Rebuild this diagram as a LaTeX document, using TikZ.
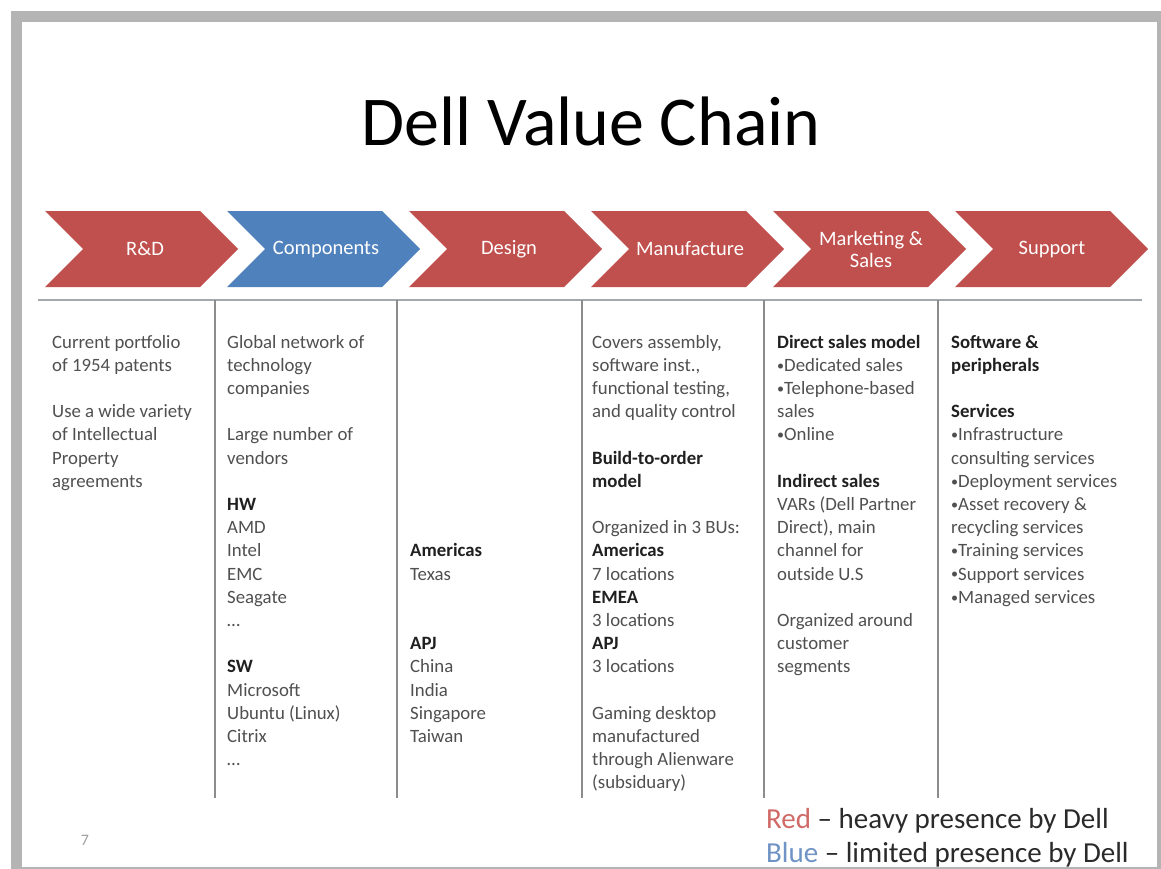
\documentclass[tikz,border=0pt]{standalone}
\usepackage{fontspec}
\usepackage{graphicx}
\setmainfont{Carlito}
\definecolor{dred}{HTML}{C0504D}
\definecolor{dblue}{HTML}{4F81BD}
\definecolor{framegray}{HTML}{B4B4B4}
\definecolor{bodytxt}{HTML}{505050}
\definecolor{boldtxt}{HTML}{202020}
\definecolor{sepline}{HTML}{8C8C8C}
\definecolor{hlinec}{HTML}{A3A8AE}
\definecolor{legred}{HTML}{CF6A67}
\definecolor{legblue}{HTML}{6F93C4}
\definecolor{legtxt}{HTML}{2A2A2A}
\definecolor{pagenum}{HTML}{A0A0A0}
\newcommand\hd[1]{{\color{boldtxt}\bfseries #1}}
\newcommand\bul{\raisebox{0.12ex}{\scalebox{0.75}{•}}}
\newcommand\chevpath[2]{\fill[#2] (#1,211) -- ++(155,0) -- ++(38,38) -- ++(-38,38) -- ++(-155,0) -- ++(38,-38) -- cycle;}
\tikzset{
  chevtext/.style={text=white, font=\fontsize{20.5}{22}\selectfont, align=center, inner sep=0pt},
  coltext/.style={anchor=base west, inner sep=0pt, text=bodytxt, font=\fontsize{18.8}{23.2}\selectfont},
  sepl/.style={draw=sepline, line width=2pt},
  hrule/.style={draw=hlinec, line width=2.5pt},
  legend/.style={anchor=base west, inner sep=0pt, text=legtxt, font=\fontsize{29}{34}\selectfont}
}
\begin{document}
\begin{tikzpicture}[x=1pt,y=-1pt]
\useasboundingbox (0,0) rectangle (1161,869);
\fill[white] (0,0) rectangle (1161,869);
\fill[framegray] (11,11) rectangle (1161,869);
\fill[white] (22,22) rectangle (1157,867);

% title
\node[anchor=base, inner sep=0pt, font=\fontsize{70}{84}\selectfont, text=black] (title) at (591,146) {Dell Value Chain};

% chevrons
\chevpath{45}{dred}
\chevpath{227}{dblue}
\chevpath{409}{dred}
\chevpath{591}{dred}
\chevpath{773}{dred}
\chevpath{955}{dred}
\node[chevtext] (rd) at (145,249) {R\&D};
\node[chevtext] (comp) at (326,249) {Components};
\node[chevtext] (design) at (509,249) {Design};
\node[chevtext] (manu) at (690,249) {Manufacture};
\node[chevtext] (mkt) at (871,249) {Marketing \&\\Sales};
\node[chevtext] (supp) at (1052,249) {Support};

% rules
\draw[hrule] (38,300) -- (1142,300);
\foreach \x in {215,397,582,764,938} \draw[sepl] (\x,300) -- (\x,798);

% columns
\node[coltext] (c1) at (52,348) {\parbox[t]{160pt}{\raggedright\leavevmode
Current portfolio\\
of 1954 patents\\[23.2pt]
Use a wide variety\\
of Intellectual\\
Property\\
agreements}};

\node[coltext] (c2) at (227,348) {\parbox[t]{165pt}{\raggedright\leavevmode
Global network of\\
technology\\
companies\\[23.2pt]
Large number of\\
vendors\\[23.2pt]
\hd{HW}\\
AMD\\
Intel\\
EMC\\
Seagate\\
…\\[23.2pt]
\hd{SW}\\
Microsoft\\
Ubuntu (Linux)\\
Citrix\\
…}};

\node[coltext] (c3) at (410,556.8) {\parbox[t]{165pt}{\raggedright\leavevmode
\hd{Americas}\\
Texas\\[46.4pt]
\hd{APJ}\\
China\\
India\\
Singapore\\
Taiwan}};

\node[coltext] (c4) at (592,348) {\parbox[t]{170pt}{\raggedright\leavevmode
Covers assembly,\\
software inst.,\\
functional testing,\\
and quality control\\[23.2pt]
\hd{Build-to-order}\\
\hd{model}\\[23.2pt]
Organized in 3 BUs:\\
\hd{Americas}\\
7 locations\\
\hd{EMEA}\\
3 locations\\
\hd{APJ}\\
3 locations\\[23.2pt]
Gaming desktop\\
manufactured\\
through Alienware\\
(subsiduary)}};

\node[coltext] (c5) at (777,348) {\parbox[t]{160pt}{\raggedright\leavevmode
\hd{Direct sales model}\\
\bul Dedicated sales\\
\bul Telephone-based\\
sales\\
\bul Online\\[23.2pt]
\hd{Indirect sales}\\
VARs (Dell Partner\\
Direct), main\\
channel for\\
outside U.S\\[23.2pt]
Organized around\\
customer\\
segments}};

\node[coltext] (c6) at (951,348) {\parbox[t]{200pt}{\raggedright\leavevmode
\hd{Software \&}\\
\hd{peripherals}\\[23.2pt]
\hd{Services}\\
\bul Infrastructure\\
consulting services\\
\bul Deployment services\\
\bul Asset recovery \&\\
recycling services\\
\bul Training services\\
\bul Support services\\
\bul Managed services}};

% page number
\node[inner sep=0pt, font=\fontsize{16}{18}\selectfont, text=pagenum] (pg) at (85,840) {7};

% legend
\node[legend] (leg1) at (766,828) {\textcolor{legred}{Red} – heavy presence by Dell};
\node[legend] (leg2) at (766,862) {\textcolor{legblue}{Blue} – limited presence by Dell};

% bottom frame edge over text
\fill[framegray] (11,867) rectangle (1161,869);
\end{tikzpicture}
\end{document}
